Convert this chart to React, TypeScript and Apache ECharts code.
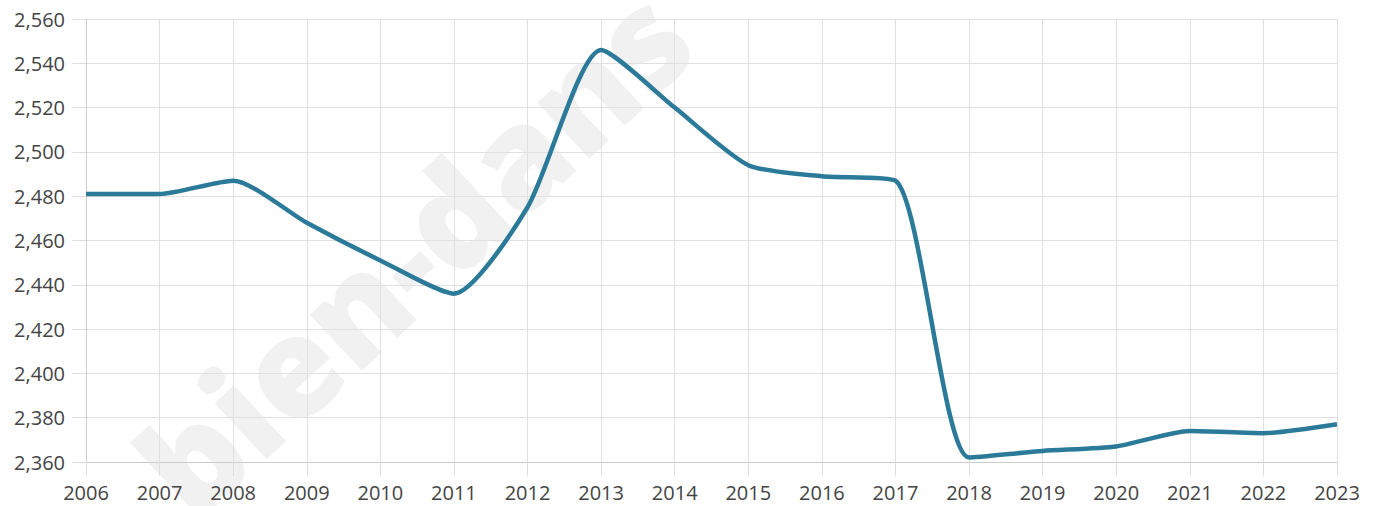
import React, { useEffect, useRef } from "react";
import * as echarts from "echarts";

const years = ["2006","2007","2008","2009","2010","2011","2012","2013","2014","2015","2016","2017","2018","2019","2020","2021","2022","2023"];
const values = [2481, 2481, 2487, 2468, 2451, 2436, 2475, 2546, 2520, 2494, 2489, 2487, 2362, 2365, 2367, 2374, 2373, 2377];
const yMin = 2360;
const yMax = 2560;
const yStep = 20;
const watermark = "bien-dans";

export default function App() {
  const ref = useRef<HTMLDivElement>(null);
  useEffect(() => {
    if (!ref.current) return;
    const chart = echarts.init(ref.current, null, { renderer: "svg" });
    chart.setOption({
      animation: false,
      backgroundColor: "#ffffff",
      textStyle: { fontFamily: "'Open Sans', sans-serif" },
      graphic: {
        z: -10,
        elements: [
          {
            type: "text",
            x: 412,
            y: 250,
            rotation: 0.75,
            z: -10,
            silent: true,
            style: {
              text: watermark,
              font: "800 138px 'Open Sans', sans-serif",
              fill: "#f1f1f1",
              align: "center",
              verticalAlign: "middle",
            },
          },
        ],
      },
      grid: { left: 86, right: 42, top: 19, bottom: 44, containLabel: false },
      xAxis: {
        type: "category",
        data: years,
        boundaryGap: false,
        axisLine: { show: true, lineStyle: { color: "#cccccc", width: 1 } },
        axisTick: { show: true, length: 14, lineStyle: { color: "#dedede" }, alignWithLabel: true },
        splitLine: { show: true, lineStyle: { color: "#e0e0e0", width: 1 } },
        axisLabel: { color: "#444444", fontSize: 20, margin: 20, fontFamily: "'Open Sans', sans-serif" },
      },
      yAxis: {
        type: "value",
        min: yMin,
        max: yMax,
        interval: yStep,
        axisLine: { show: true, lineStyle: { color: "#cccccc", width: 1 } },
        axisTick: { show: true, length: 14, lineStyle: { color: "#dedede" } },
        splitLine: { show: true, lineStyle: { color: "#e0e0e0", width: 1 } },
        axisLabel: {
          color: "#444444",
          fontSize: 20,
          margin: 21,
          fontFamily: "'Open Sans', sans-serif",
          formatter: (v: number) => v.toLocaleString("en-US"),
        },
      },
      series: [
        {
          type: "line",
          data: values,
          smooth: 0.22,
          showSymbol: false,
          symbol: "none",
          lineStyle: { color: "#2b7a99", width: 4.5 },
          z: 5,
        },
      ],
    });
    return () => chart.dispose();
  }, []);
  return (
    <div
      ref={ref}
      style={{ position: "absolute", left: 0, top: 0, width: 1379, height: 506 }}
    />
  );
}
